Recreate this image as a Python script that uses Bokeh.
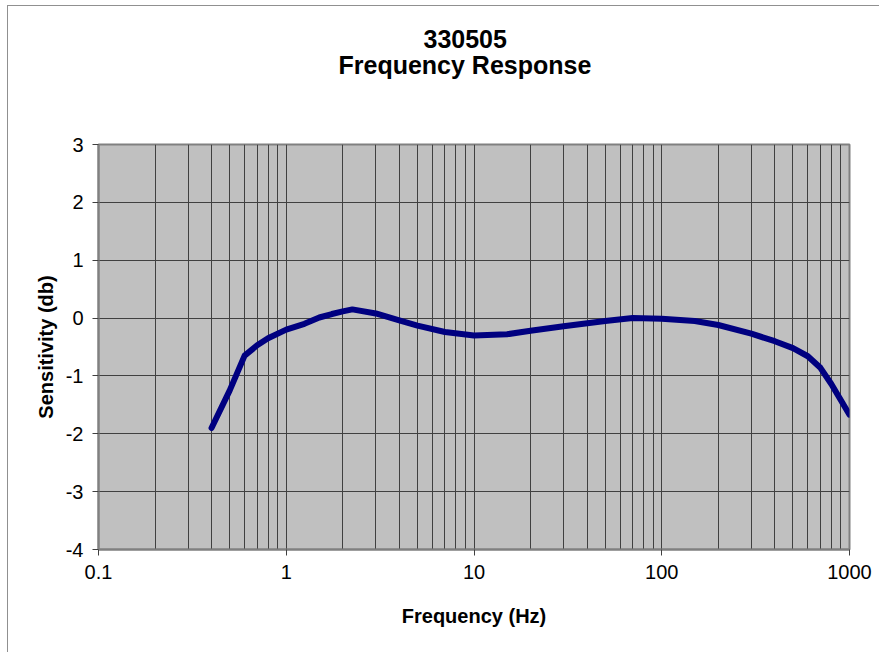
from bokeh.plotting import figure
from bokeh.models import Range1d, FixedTicker, CustomJSTickFormatter, Title
from bokeh.embed import file_html
from bokeh.resources import INLINE

# ---- data ----
freq_hz = [0.4, 0.5, 0.6, 0.7, 0.8, 1.0, 1.25, 1.5, 1.75, 2.0, 2.25, 3.0, 4.0, 5.0,
           7.0, 10.0, 15.0, 20.0, 30.0, 50.0, 70.0, 100.0, 150.0, 200.0, 300.0,
           400.0, 500.0, 600.0, 700.0, 800.0, 900.0, 1000.0]
sensitivity_db = [-1.9, -1.25, -0.65, -0.47, -0.35, -0.2, -0.1, 0.01, 0.07, 0.115,
                  0.15, 0.08, -0.04, -0.13, -0.24, -0.3, -0.28, -0.22, -0.14, -0.05,
                  0.0, -0.01, -0.05, -0.12, -0.27, -0.4, -0.52, -0.66, -0.86, -1.14,
                  -1.42, -1.67]

x_major_ticks = [0.1, 1, 10, 100, 1000]
x_minor_ticks = [m * d for d in [0.1, 1, 10, 100] for m in range(2, 10)]
y_ticks = [-4, -3, -2, -1, 0, 1, 2, 3]

title_line1 = "330505"
title_line2 = "Frequency Response"
x_label = "Frequency (Hz)"
y_label = "Sensitivity (db)"

FONT = "Liberation Sans"

W, H = 872, 647
ML, MR, MT, MB = 90, 31, 138, 104

p = figure(width=W, height=H, x_axis_type="log", output_backend="svg",
           toolbar_location=None, title=None,
           x_range=Range1d(0.1, 1000), y_range=Range1d(-4, 3),
           min_border_left=ML, min_border_right=MR, min_border_bottom=MB,
           min_border_top=MT,
           styles={"margin-left": "7px", "margin-top": "5px",
                   "border-left": "1px solid #909090",
                   "border-top": "1px solid #909090"})

title_style = dict(align="left", text_font=FONT, text_font_size="25px",
                   text_font_style="bold", text_color="black")
# spacer between frame and title block
p.add_layout(Title(text=" ", standoff=36, **title_style), "above")
p.add_layout(Title(text=title_line2, standoff=0, offset=240, **title_style), "above")
p.add_layout(Title(text=title_line1, standoff=1, offset=325, **title_style), "above")

p.background_fill_color = "#C0C0C0"
p.border_fill_color = "white"
p.outline_line_color = "#808080"
p.outline_line_width = 2

p.xaxis.ticker = FixedTicker(ticks=x_major_ticks, minor_ticks=x_minor_ticks)
p.xaxis.formatter = CustomJSTickFormatter(code="return String(tick);")
p.yaxis.ticker = FixedTicker(ticks=y_ticks)
p.yaxis.formatter = CustomJSTickFormatter(code="return String(tick);")

for ax in (p.xaxis, p.yaxis):
    ax.axis_line_color = "#808080"
    ax.axis_line_width = 2
    ax.major_tick_line_color = "#404040"
    ax.major_tick_out = 6
    ax.major_tick_in = 0
    ax.minor_tick_out = 0
    ax.minor_tick_in = 0
    ax.major_label_text_font = FONT
    ax.major_label_text_font_size = "20px"
    ax.major_label_text_color = "black"
    ax.axis_label_text_font = FONT
    ax.axis_label_text_font_size = "20px"
    ax.axis_label_text_font_style = "bold"
    ax.axis_label_text_color = "black"

p.xaxis.axis_label = x_label
p.yaxis.axis_label = y_label
p.xaxis.major_label_standoff = 9
p.yaxis.major_label_standoff = 9
p.xaxis.axis_label_standoff = 23
p.yaxis.axis_label_standoff = 6

p.xgrid.grid_line_color = "#404040"
p.xgrid.grid_line_width = 1
p.xgrid.minor_grid_line_color = "#404040"
p.xgrid.minor_grid_line_width = 1
p.ygrid.grid_line_color = "#404040"
p.ygrid.grid_line_width = 1

p.line(freq_hz, sensitivity_db, line_color="#000080", line_width=6,
       line_cap="round", line_join="round")

open("out.html", "w").write(file_html(p, INLINE))
